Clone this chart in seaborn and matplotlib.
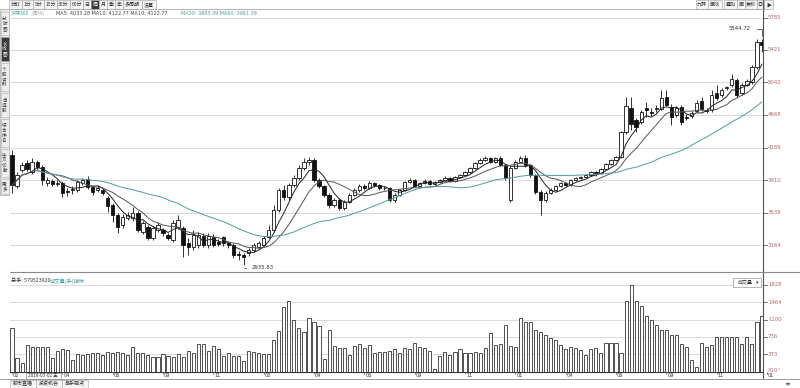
import numpy as np
import pandas as pd
import matplotlib
matplotlib.use("Agg")
import matplotlib.pyplot as plt
import matplotlib.patches as mpatches
import seaborn as sns

sns.set_theme(style="white")
plt.rcParams["font.family"] = ["Noto Sans CJK SC", "DejaVu Sans"]

# ---------------- data (weekly candles) ----------------
opens = [4203, 3845, 4030, 4110, 4006, 4122, 4064, 3879, 3902, 3868,
         3879, 3787, 3798, 3798, 3879, 3925, 3833, 3798, 3798, 3706,
         3625, 3510, 3394, 3475, 3475, 3533, 3313, 3371, 3244, 3337,
         3337, 3279, 3221, 3371, 3360, 3186, 3140, 3163, 3267, 3163,
         3256, 3198, 3256, 3186, 3163, 3059, 3048, 3071, 3106, 3140,
         3163, 3256, 3337, 3568, 3798, 3718, 3856, 3937, 4053, 4122,
         4145, 3914, 3845, 3741, 3625, 3683, 3591, 3660, 3741, 3798,
         3845, 3822, 3879, 3856, 3822, 3822, 3683, 3741, 3798, 3891,
         3914, 3845, 3879, 3902, 3868, 3891, 3914, 3937, 3902, 3949,
         3972, 4006, 4053, 4110, 4145, 4168, 4122, 4168, 4087, 3683,
         4053, 4122, 4168, 4087, 3972, 3775, 3683, 3764, 3798, 3845,
         3879, 3856, 3914, 3937, 3949, 3972, 4006, 3995, 4041, 4099,
         4145, 4180, 4468, 4746, 4607, 4584, 4746, 4700, 4735, 4735,
         4873, 4758, 4665, 4758, 4642, 4653, 4711, 4827, 4723, 4723,
         4919, 4896, 4977, 5011, 5069, 4919, 5011, 5046, 5219, 5508]
closes = [3856, 3972, 4087, 4041, 4122, 4064, 3914, 3914, 3868, 3879,
          3764, 3775, 3810, 3891, 3914, 3833, 3775, 3822, 3764, 3614,
          3510, 3371, 3487, 3510, 3533, 3337, 3418, 3244, 3360, 3394,
          3302, 3244, 3418, 3452, 3163, 3140, 3279, 3279, 3163, 3267,
          3163, 3175, 3186, 3163, 3048, 3048, 3025, 3106, 3163, 3186,
          3244, 3337, 3568, 3798, 3718, 3856, 3937, 4053, 4122, 4145,
          3914, 3845, 3741, 3625, 3683, 3591, 3660, 3741, 3798, 3845,
          3822, 3879, 3856, 3822, 3822, 3683, 3741, 3798, 3891, 3914,
          3845, 3879, 3902, 3868, 3891, 3914, 3937, 3902, 3949, 3972,
          4006, 4053, 4110, 4145, 4168, 4122, 4168, 4087, 3937, 4053,
          4122, 4168, 4087, 3972, 3775, 3683, 3764, 3798, 3845, 3879,
          3856, 3914, 3937, 3949, 3972, 4006, 3995, 4041, 4099, 4145,
          4180, 4468, 4769, 4561, 4526, 4700, 4723, 4688, 4746, 4861,
          4781, 4642, 4746, 4584, 4630, 4688, 4804, 4735, 4711, 4896,
          4861, 4954, 4977, 5081, 4896, 5011, 5057, 5219, 5508, 5473]
highs = [4261, 4006, 4122, 4145, 4168, 4145, 4087, 3949, 3925, 3914,
         3902, 3822, 3845, 3914, 3937, 3960, 3845, 3856, 3822, 3729,
         3649, 3533, 3521, 3544, 3602, 3556, 3440, 3394, 3383, 3429,
         3360, 3302, 3452, 3510, 3383, 3244, 3337, 3313, 3302, 3302,
         3290, 3233, 3267, 3210, 3186, 3094, 3071, 3129, 3186, 3210,
         3267, 3394, 3625, 3822, 3856, 3879, 3972, 4087, 4168, 4180,
         4168, 3937, 3856, 3764, 3706, 3706, 3683, 3764, 3822, 3868,
         3868, 3902, 3891, 3868, 3845, 3833, 3764, 3810, 3902, 3937,
         3925, 3891, 3925, 3914, 3902, 3925, 3960, 3949, 3960, 3983,
         4018, 4064, 4122, 4168, 4191, 4180, 4180, 4191, 4099, 4076,
         4145, 4191, 4203, 4099, 3983, 3798, 3787, 3822, 3856, 3891,
         3891, 3925, 3949, 3960, 3983, 4018, 4018, 4053, 4110, 4156,
         4191, 4480, 4873, 4873, 4630, 4723, 4815, 4746, 4781, 4954,
         4954, 4792, 4769, 4781, 4677, 4711, 4838, 4873, 4746, 4954,
         5011, 4977, 5000, 5138, 5092, 5034, 5081, 5242, 5537, 5544.72]
lows = [3764, 3822, 4006, 4018, 3983, 4030, 3856, 3845, 3845, 3845,
        3718, 3729, 3752, 3775, 3856, 3810, 3741, 3775, 3741, 3544,
        3429, 3302, 3360, 3452, 3440, 3313, 3290, 3221, 3221, 3313,
        3267, 3221, 3198, 3348, 3025, 3048, 3106, 3129, 3140, 3129,
        3140, 3152, 3152, 3129, 3013, 2990, 2935.83, 3036, 3083, 3117,
        3152, 3244, 3313, 3544, 3683, 3683, 3833, 3914, 4030, 4087,
        3891, 3822, 3718, 3591, 3602, 3568, 3568, 3649, 3729, 3775,
        3798, 3810, 3833, 3798, 3798, 3660, 3660, 3729, 3787, 3879,
        3833, 3833, 3868, 3856, 3856, 3879, 3902, 3891, 3891, 3937,
        3960, 3995, 4041, 4099, 4133, 4110, 4110, 4076, 3914, 3660,
        4041, 4110, 4064, 3949, 3752, 3510, 3660, 3752, 3787, 3833,
        3845, 3845, 3902, 3925, 3937, 3960, 3960, 3983, 4030, 4087,
        4133, 4168, 4445, 4492, 4468, 4561, 4642, 4653, 4700, 4723,
        4769, 4549, 4642, 4549, 4607, 4630, 4700, 4711, 4688, 4700,
        4838, 4873, 4954, 4988, 4873, 4896, 5000, 5023, 5196, 5392]
volumes = [926, 295, 189, 568, 526, 526, 526, 526, 295, 442,
           484, 463, 252, 379, 358, 379, 400, 400, 358, 421,
           400, 421, 400, 358, 526, 400, 400, 358, 316, 316,
           379, 337, 316, 379, 316, 442, 400, 589, 589, 442,
           547, 484, 337, 400, 337, 337, 231, 442, 421, 400,
           379, 379, 673, 863, 1368, 1494, 1094, 926, 842, 1136,
           1052, 968, 273, 884, 547, 505, 505, 358, 547, 589,
           505, 568, 400, 421, 421, 442, 484, 400, 505, 484,
           610, 526, 505, 442, 63, 337, 421, 358, 421, 484,
           400, 400, 421, 400, 505, 820, 568, 589, 989, 547,
           526, 1136, 1052, 1052, 884, 842, 779, 715, 673, 568,
           484, 526, 505, 463, 358, 484, 505, 400, 610, 610,
           610, 400, 1494, 1828, 1494, 1389, 1178, 1094, 989, 884,
           884, 779, 779, 589, 526, 252, 105, 610, 526, 568,
           736, 736, 736, 736, 736, 589, 736, 589, 1052, 1178]
price_ticks = [3164, 3538, 3910, 4289, 4668, 5042, 5421, 5785]
vol_ticks = [373, 736, 1100, 1464, 1828]
month_labels = ["02", "04", "06", "09", "11", "02", "04", "06",
                "09", "11", "01", "04", "06", "09", "11", "01"]
month_pos = [0, 10, 20, 30, 40, 50, 60, 70, 80, 90, 100, 110, 120, 130, 140, 150]

df = pd.DataFrame({"open": opens, "high": highs, "low": lows,
                   "close": closes, "volume": volumes})
df["i"] = np.arange(len(df))
df["ma5"] = df["close"].rolling(5, min_periods=1).mean()
df["ma10"] = df["close"].rolling(10, min_periods=1).mean()
df["ma30"] = df["close"].rolling(30, min_periods=1).mean()
df["up"] = df["close"] >= df["open"]

W, H = 800, 388
fig = plt.figure(figsize=(W / 100, H / 100), dpi=100)
fig.patch.set_facecolor("white")


def fx(x):
    return x / W


def fy(y):
    return 1 - y / H


FS = 3.9
TXT = "#333333"

# price panel: x 10..763 px, y 9..272 px
axp = fig.add_axes([fx(10), fy(272), fx(763) - fx(10), fy(9) - fy(272)])
# volume panel: y 276..372 px
axv = fig.add_axes([fx(10), fy(372), fx(763) - fx(10), fy(276) - fy(372)])

x0 = -0.4
x1 = 149.2
s = 11.53  # price per px
axp.set_xlim(x0, x1)
axp.set_ylim(3164 - 27 * s, 5785 + 9 * s)
vs = 1828 / (372 - 285)
axv.set_ylim(0, 96 * vs)

grid_c = "#d9d9d9"
for t in price_ticks:
    axp.axhline(t, color=grid_c, lw=0.7, zorder=0)
for t in vol_ticks:
    axv.axhline(t, color=grid_c, lw=0.7, zorder=0)

# candles
bw = 0.66
for _, r in df.iterrows():
    axp.vlines(r["i"], r["low"], r["high"], color="#111111", lw=0.6, zorder=2)
    lo, hi = min(r["open"], r["close"]), max(r["open"], r["close"])
    if hi - lo < 6:
        hi = lo + 6
    fc = "white" if r["up"] else "#111111"
    axp.bar(r["i"], hi - lo, bottom=lo, width=bw, facecolor=fc,
            edgecolor="#111111", lw=0.6, zorder=3)

sns.lineplot(data=df, x="i", y="ma5", ax=axp, color="#222222", lw=0.7, zorder=4)
sns.lineplot(data=df, x="i", y="ma10", ax=axp, color="#555555", lw=0.7, zorder=4)
sns.lineplot(data=df.iloc[5:], x="i", y="ma30", ax=axp, color="#4f9e9e", lw=0.7, zorder=4)

# high / low annotations
ih = int(np.argmax(df["high"]))
il = int(np.argmin(df["low"]))
axp.annotate(f"{df['high'][ih]:.2f}", xy=(ih, df["high"][ih]), xytext=(ih - 2.2, 5660),
             fontsize=FS, color=TXT, ha="right", va="center", family="DejaVu Sans",
             arrowprops=dict(arrowstyle="-", color=TXT, lw=0.5,
                             connectionstyle="angle,angleA=0,angleB=90"))
axp.annotate(f"{df['low'][il]:.2f}", xy=(il, df["low"][il]), xytext=(il + 1.6, 2900),
             fontsize=FS, color=TXT, ha="left", va="center", family="DejaVu Sans",
             arrowprops=dict(arrowstyle="-", color=TXT, lw=0.5,
                             connectionstyle="angle,angleA=0,angleB=90"))

# volume bars (hollow)
sns.barplot(data=df, x="i", y="volume", ax=axv, native_scale=True, width=0.62,
            color="white", edgecolor="#333333", linewidth=0.6, zorder=3)
axv.set_xlim(x0, x1)
axv.set_ylim(0, 96 * vs)

for ax in (axp, axv):
    ax.set_xlabel("")
    ax.set_ylabel("")
    ax.set_xticks([])
    ax.set_yticks([])
    for sp in ax.spines.values():
        sp.set_visible(False)
    ax.set_facecolor("none")
axv.spines["bottom"].set_visible(True)
axv.spines["bottom"].set_color("#333333")
axv.spines["bottom"].set_linewidth(0.8)


def line(xa, ya, xb, yb, c="#888888", lw=0.6):
    fig.add_artist(plt.Line2D([fx(xa), fx(xb)], [fy(ya), fy(yb)], color=c, lw=lw))


def rect(x, y, w, h, fc="white", ec="#aaaaaa", lw=0.5):
    fig.add_artist(mpatches.Rectangle((fx(x), fy(y + h)), w / W, h / H,
                                      transform=fig.transFigure, facecolor=fc,
                                      edgecolor=ec, lw=lw))


# right axis line and labels
tick_c = "#b46868"
line(763, 0, 763, 378, c="#555555", lw=0.8)
for ax, ticks in ((axp, price_ticks), (axv, vol_ticks)):
    for t in ticks:
        ypx = H - ax.transData.transform((0, t))[1]
        line(763, ypx, 767, ypx, c="#555555", lw=0.6)
        fig.text(fx(768), fy(ypx), str(t), fontsize=FS, color=tick_c, va="center",
                 ha="left", family="DejaVu Sans")
fig.text(fx(768), fy(370), "X10⁵", fontsize=FS, color=tick_c, va="center", ha="left",
         family="DejaVu Sans")

# panel separators
line(10, 272, 800, 272, c="#8a8a8a", lw=0.8)
line(10, 9, 763, 9, c="#aaaaaa", lw=0.6)
line(0, 379, 800, 379, c="#8a8a8a", lw=0.6)

# month labels
for lab, p in zip(month_labels, month_pos):
    xpx = axv.transData.transform((p, 0))[0]
    line(xpx, 372, xpx, 374, c="#555555", lw=0.5)
    fig.text(fx(xpx + 1), fy(375.5), lab, fontsize=3.6, color=TXT, ha="left", va="center",
             family="DejaVu Sans")
rect(26, 372.5, 35, 6, fc="white", ec="#777777", lw=0.4)
fig.text(fx(27.5), fy(375.5), "2018-03-02 五", fontsize=3.4, color=TXT,
         ha="left", va="center")

# header texts
fig.text(fx(11), fy(13.5), "沪深300", fontsize=3.6, color="#3aa0a0", va="center")
fig.text(fx(32), fy(13.5), "(周线)", fontsize=3.6, color="#aaaaaa", va="center")
fig.text(fx(56), fy(13.5),
         "MA5: 4033.28 MA10: 4122.77 MA10: 4122.77", fontsize=3.5,
         color="#444444", va="center", family="DejaVu Sans")
fig.text(fx(181), fy(13.5), "MA30: 3883.39 MA60: 3861.39", fontsize=3.5,
         color="#4f9e9e", va="center", family="DejaVu Sans")
fig.text(fx(11), fy(281), "总手: 579523920", fontsize=3.8, color=TXT, va="center")
fig.text(fx(50), fy(281), "成交量(手)指标", fontsize=3.8, color="#3aa0a0", va="center")

# top tabs
tabs = [("分时", 9, 13), ("1分", 22, 11), ("5分", 33, 11), ("15分", 44, 13), ("30分", 57, 13),
        ("60分", 70, 13), ("日", 83, 8), ("周", 91, 8), ("月", 99, 8), ("季", 107, 8),
        ("年", 115, 8), ("多周期", 123, 19), ("设置", 142, 14)]
for lab, xx, ww in tabs:
    sel = lab == "周"
    rect(xx, 0.5, ww, 8, fc="#3a3a3a" if sel else "#f4f4f4", ec="#a0a0a0", lw=0.4)
    fig.text(fx(xx + ww / 2), fy(4.6), lab, fontsize=3.6,
             color="white" if sel else TXT, va="center", ha="center")
rtabs = [("九转", 696, 12), ("画线", 708, 14), ("叠加", 724, 13), ("画", 737, 8),
         ("复权", 745, 12), ("◎", 757, 7), ("▶", 764, 9)]
for lab, xx, ww in rtabs:
    rect(xx, 0.5, ww, 8, fc="#f4f4f4", ec="#a0a0a0", lw=0.4)
    fig.text(fx(xx + ww / 2), fy(4.6), lab, fontsize=3.6, color=TXT, va="center",
             ha="center", family=["Noto Sans CJK SC", "DejaVu Sans"])

# left strip
rect(0, 9, 9, 186, fc="#e8e8e8", ec="#aaaaaa", lw=0.5)
side = [("分时图", 12, 24), ("K线图", 37, 25), ("个股资料", 63, 29), ("自选股", 93, 25),
        ("综合排名", 119, 29), ("牛叉诊断", 149, 29), ("更多", 179, 16)]
for lab, yy, hh in side:
    sel = lab == "K线图"
    rect(0.5, yy, 8, hh - 1, fc="#3a3a3a" if sel else "#eeeeee", ec="#b0b0b0", lw=0.4)
    fig.text(fx(4.5), fy(yy + hh / 2 - 0.5), "\n".join(lab), fontsize=3.3,
             color="white" if sel else TXT, ha="center", va="center", linespacing=1.0)

# volume indicator box
rect(733, 278, 28, 9, fc="white", ec="#999999", lw=0.5)
fig.text(fx(738), fy(282.5), "成交量", fontsize=3.6, color=TXT, va="center")
fig.text(fx(756), fy(282.5), "▾", fontsize=3.6, color=TXT, va="center",
         family="DejaVu Sans")

# bottom tabs
btabs = [("股市直播", 10, 26), ("投资机会", 36, 26), ("高手观点", 62, 26)]
for lab, xx, ww in btabs:
    rect(xx, 380, ww, 8, fc="#f4f4f4", ec="#a0a0a0", lw=0.4)
    fig.text(fx(xx + ww / 2), fy(384), lab, fontsize=3.6, color=TXT, va="center",
             ha="center")
fig.text(fx(784), fy(384), "≑", fontsize=5, color=TXT, va="center", family="DejaVu Sans")

fig.savefig("out.png", dpi=100, facecolor="white")
